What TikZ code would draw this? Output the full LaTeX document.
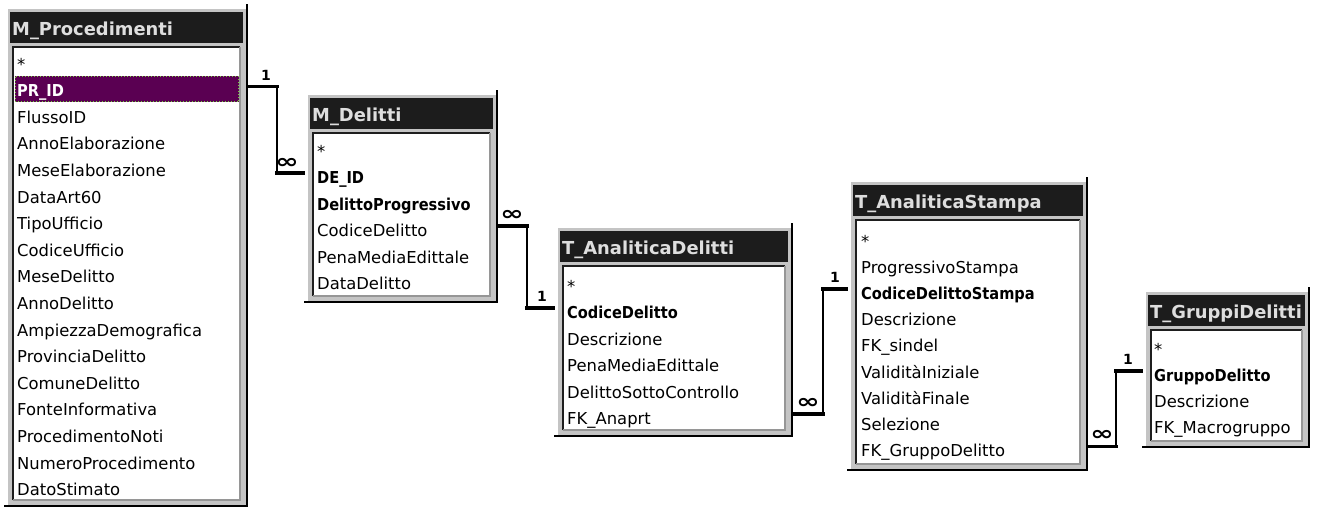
\documentclass[tikz,border=0pt]{standalone}
\usepackage{fontspec}
\setmainfont{DejaVu Sans}
\usetikzlibrary{calc}
\definecolor{tgray}{RGB}{196,196,196}
\definecolor{tbarc}{RGB}{28,28,28}
\definecolor{ttextc}{RGB}{222,222,222}
\definecolor{hlpurple}{RGB}{90,0,82}
\definecolor{hlgreen}{RGB}{120,210,60}
\definecolor{ldark}{RGB}{30,30,30}
\definecolor{lgrayb}{RGB}{150,150,150}
\tikzset{
  tbody/.style={fill=tgray, draw=none, inner sep=0pt, outer sep=0pt},
  tbarbox/.style={fill=tbarc, draw=none, inner sep=0pt, outer sep=0pt, minimum height=31pt},
  tlistbox/.style={fill=white, draw=none, inner sep=0pt, outer sep=0pt},
  ttitle/.style={anchor=base west, inner sep=0pt, text=ttextc, font=\bfseries\fontsize{17.9}{18}\selectfont},
  fldtxt/.style={anchor=base west, inner sep=0pt, font=\fontsize{16.4}{18}\selectfont},
  keytxt/.style={fldtxt, font=\bfseries\fontsize{16.4}{18}\selectfont, xscale=0.89},
  keyhltxt/.style={keytxt, text=white},
  relthin/.style={line width=1.8pt},
  relthick/.style={line width=3.2pt, line cap=rect},
  onelbl/.style={inner sep=0pt, font=\bfseries\fontsize{14}{14}\selectfont},
  inflbl/.style={inner sep=0pt, font=\bfseries\fontsize{20}{20}\selectfont, xscale=1.4}
}
% #1 name, #2 x0, #3 y0, #4 x1, #5 y1, #6 title
\newcommand\dbtab[6]{%
  \node[tbody, minimum width={(#4-#2)*1pt}, minimum height={(#5-#3)*1pt}, anchor=north west] (#1) at (#2,#3) {};
  \draw[white, line width=1pt] (#2+0.5,#5-1) -- (#2+0.5,#3+0.5) -- (#4-1,#3+0.5);
  \node[tbarbox, minimum width={(#4-#2-8)*1pt}, anchor=north west] (#1t) at (#2+3,#3+4) {};
  \node[ttitle] (#1n) at (#2+5,#3+27) {#6};
  \node[tlistbox, minimum width={(#4-#2-14)*1pt}, minimum height={(#5-#3-46)*1pt}, anchor=north west] (#1l) at (#2+6,#3+39) {};
  \draw[ldark, line width=1.5pt] (#1l.south west) -- (#1l.north west) -- (#1l.north east);
  \draw[lgrayb, line width=1.5pt] (#1l.north east) -- (#1l.south east) -- (#1l.south west);
  \draw[black, line width=2.5pt] (#4-1,#3-4) -- (#4-1,#5-1) -- (#2-3,#5-1);
}
% #1 id, #2 start table, #3 start row coord, #4 end table, #5 end row coord, #6 bend x
\newcommand\dbrel[6]{%
  \coordinate (#1s) at ($(#2.east |- #3)+(0,-4)$);
  \coordinate (#1e) at ($(#4.west |- #5)+(-4,-4)$);
  \coordinate (#1b) at (#6,0);
  \draw[relthin] (#1s) -- (#1b |- #1s) -- (#1b |- #1e) -- (#1e);
  \draw[relthick] (#1s) -- (#1b |- #1s);
  \draw[relthick] (#1b |- #1e) -- (#1e);
}
\begin{document}
\begin{tikzpicture}[x=1pt,y=-1pt]
\fill[white] (0,0) rectangle (1317,509);
\useasboundingbox (0,0) rectangle (1317,509);

% ---------- M_Procedimenti
\dbtab{t1}{7}{8}{248}{507}{M\_Procedimenti}
\fill[hlpurple] (15,76) rectangle (239,102);
\draw[hlgreen, dotted, line width=1pt] (15.5,76.5) rectangle (238.5,101.5);
\foreach \s/\t [count=\i from 0] in {fldtxt/*, keyhltxt/PR\_ID, fldtxt/FlussoID, fldtxt/AnnoElaborazione,
  fldtxt/MeseElaborazione, fldtxt/DataArt60, fldtxt/TipoUfficio, fldtxt/CodiceUfficio, fldtxt/MeseDelitto,
  fldtxt/AnnoDelitto, fldtxt/AmpiezzaDemografica, fldtxt/ProvinciaDelitto, fldtxt/ComuneDelitto,
  fldtxt/FonteInformativa, fldtxt/ProcedimentoNoti, fldtxt/NumeroProcedimento, fldtxt/DatoStimato}{
  \coordinate (t1c\i) at (17, 63.5+26.6*\i);
  \node[\s] (t1r\i) at ([yshift=-6.5pt]t1c\i) {\t};
}

% ---------- M_Delitti
\dbtab{t2}{307}{94}{498}{303}{M\_Delitti}
\foreach \s/\t [count=\i from 0] in {fldtxt/*, keytxt/DE\_ID, keytxt/DelittoProgressivo, fldtxt/CodiceDelitto,
  fldtxt/PenaMediaEdittale, fldtxt/DataDelitto}{
  \coordinate (t2c\i) at (317, 150.5+26.5*\i);
  \node[\s] (t2r\i) at ([yshift=-6.5pt]t2c\i) {\t};
}

% ---------- T_AnaliticaDelitti
\dbtab{t3}{557}{227}{793}{437}{T\_AnaliticaDelitti}
\foreach \s/\t [count=\i from 0] in {fldtxt/*, keytxt/CodiceDelitto, fldtxt/Descrizione, fldtxt/PenaMediaEdittale,
  fldtxt/DelittoSottoControllo, fldtxt/FK\_Anaprt}{
  \coordinate (t3c\i) at (567, 285.5+26.5*\i);
  \node[\s] (t3r\i) at ([yshift=-6.5pt]t3c\i) {\t};
}

% ---------- T_AnaliticaStampa
\dbtab{t4}{850}{181}{1088}{471}{T\_AnaliticaStampa}
\foreach \s/\t [count=\i from 0] in {fldtxt/*, fldtxt/ProgressivoStampa, keytxt/CodiceDelittoStampa, fldtxt/Descrizione,
  fldtxt/FK\_sindel, fldtxt/ValiditàIniziale, fldtxt/ValiditàFinale, fldtxt/Selezione, fldtxt/FK\_GruppoDelitto}{
  \coordinate (t4c\i) at (861, 240.5+26.2*\i);
  \node[\s] (t4r\i) at ([yshift=-6.5pt]t4c\i) {\t};
}

% ---------- T_GruppiDelitti
\dbtab{t5}{1145}{291}{1310}{448}{T\_GruppiDelitti}
\foreach \s/\t [count=\i from 0] in {fldtxt/*, keytxt/GruppoDelitto, fldtxt/Descrizione, fldtxt/FK\_Macrogruppo}{
  \coordinate (t5c\i) at (1154, 349+26*\i);
  \node[\s] (t5r\i) at ([yshift=-6.5pt]t5c\i) {\t};
}

% ---------- relationships
\dbrel{ra}{t1}{t1c1}{t2}{t2c1}{277}
\node[onelbl] (raone) at ($(rab |- ras)+(-11,-11)$) {1};
\node[inflbl] (rainf) at ($(rab |- rae)+(10,-10)$) {∞};

\dbrel{rb}{t2}{t2c3}{t3}{t3c1}{527}
\node[inflbl] (rbinf) at ($(rbs)+(14,-11)$) {∞};
\node[onelbl] (rbone) at ($(rbe)+(-11,-12)$) {1};

\dbrel{rc}{t3}{t3c5}{t4}{t4c2}{823}
\node[inflbl] (rcinf) at ($(rcs)+(15,-11)$) {∞};
\node[onelbl] (rcone) at ($(rce)+(-11,-12)$) {1};

\dbrel{rd}{t4}{t4c8}{t5}{t5c1}{1116}
\node[inflbl] (rdinf) at ($(rds)+(14,-11)$) {∞};
\node[onelbl] (rdone) at ($(rde)+(-13,-12)$) {1};
\end{tikzpicture}
\end{document}
